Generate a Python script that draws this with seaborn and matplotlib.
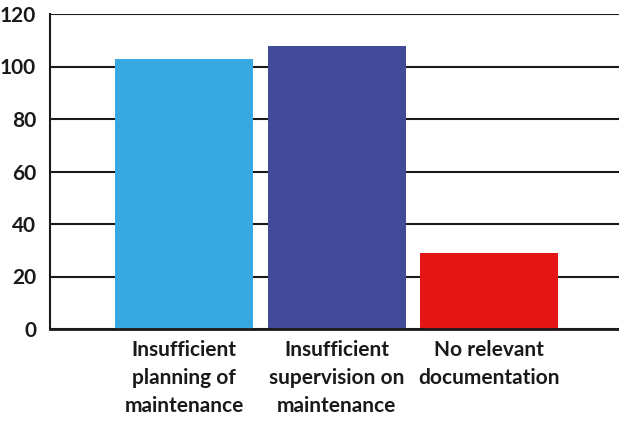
import matplotlib
matplotlib.use("Agg")
import matplotlib.pyplot as plt
import seaborn as sns
import pandas as pd

categories = [
    "Insufficient\nplanning of\nmaintenance",
    "Insufficient\nsupervision on\nmaintenance",
    "No relevant\ndocumentation",
]
counts = [103, 108, 29]
colors = ["#36A9E0", "#434A9A", "#E31515"]
y_ticks = [0, 20, 40, 60, 80, 100, 120]

sns.set_theme(style="white")
plt.rcParams["font.family"] = ["Lato", "DejaVu Sans"]

df = pd.DataFrame({"cause": categories, "count": counts})

fig = plt.figure(figsize=(6.19, 4.21), dpi=100)
ax = fig.add_axes([50 / 619, 1 - 329 / 421, 1 - 50 / 619, (329 - 14) / 421])

sns.barplot(data=df, x="cause", y="count", hue="cause", palette=colors,
            width=0.905, saturation=1, legend=False, ax=ax, zorder=3,
            linewidth=0)

ax.set_ylim(0, 120)
ax.set_xlim(-0.88, 2.85)
ax.set_yticks(y_ticks)
ax.yaxis.grid(True, color="#1a1a1a", linewidth=1.5, zorder=0)
ax.set_axisbelow(True)

for side in ["top", "right"]:
    ax.spines[side].set_visible(False)
ax.spines["left"].set_color("#1a1a1a")
ax.spines["left"].set_linewidth(1.5)
ax.spines["bottom"].set_color("#1a1a1a")
ax.spines["bottom"].set_linewidth(2)
ax.spines["bottom"].set_zorder(4)

ax.set_xlabel("")
ax.set_ylabel("")
ax.tick_params(axis="y", length=0, pad=10, labelsize=15, labelcolor="#1a1a1a")
ax.tick_params(axis="x", length=0, pad=8, labelsize=15, labelcolor="#1a1a1a")
for lbl in ax.get_yticklabels() + ax.get_xticklabels():
    lbl.set_fontweight("bold")
for lbl in ax.get_xticklabels():
    lbl.set_linespacing(1.5)

fig.savefig("out.png", dpi=100)
